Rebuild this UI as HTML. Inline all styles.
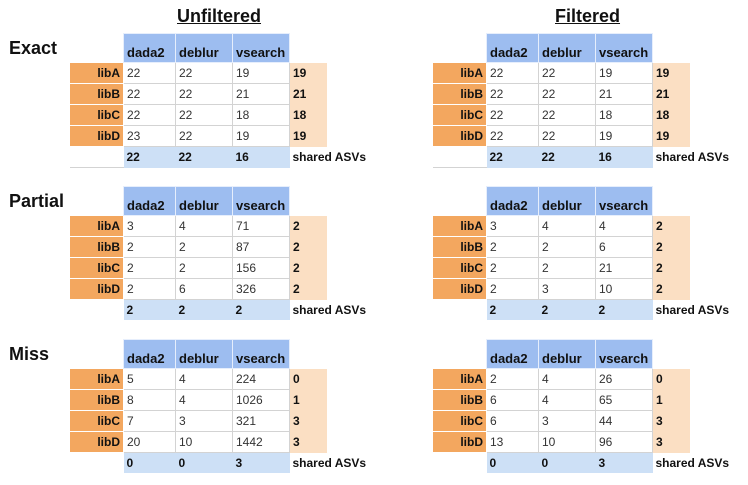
<!DOCTYPE html>
<html><head><meta charset="utf-8"><style>
body{margin:0;width:748px;height:485px;background:#fff;position:relative;overflow:hidden;font-family:"Liberation Sans",Arial,sans-serif;color:#111}
.t{position:absolute;border-collapse:collapse;table-layout:fixed;font-size:12px;width:257px}
.t td{padding:0 0 0 3px;height:20px;border:1px solid #d3d3d3;white-space:nowrap;overflow:visible;color:#333}
.t tr.h td{height:26px;background:#9dbdf0;border:1px solid #e6eefc;font-weight:bold;color:#111;vertical-align:bottom;padding-bottom:2px;font-size:13px}
.t tr.h td.e{background:#fff;border:none}
.t td.l{background:#f3a75f;border:1px solid #fff;text-align:right;padding:0 3px 0 0;font-weight:bold;color:#111}
.t td.s{background:#fbdfc3;border:none;font-weight:bold;color:#111}
.t tr.f td{background:#cde0f6;font-weight:bold;color:#111;border:none}
.t tr.f td.e{background:#fff;border:none;border-bottom:1px solid #d3d3d3}
.t tr.f td.x{background:#fff;overflow:visible;padding-left:3px}
.sec{position:absolute;left:9px;font-weight:bold;font-size:18px}
.ttl{position:absolute;top:6px;font-weight:bold;font-size:18px;text-decoration:underline}
</style></head><body>
<div class="ttl" style="left:177px">Unfiltered</div>
<div class="ttl" style="left:555px">Filtered</div>
<div class="sec" style="top:38px">Exact</div>
<div class="sec" style="top:191px">Partial</div>
<div class="sec" style="top:344px">Miss</div>

<table class="t" style="left:69px;top:33px"><colgroup><col style="width:54px"><col style="width:52px"><col style="width:57px"><col style="width:57px"><col style="width:37px"></colgroup>
<tr class="h"><td class="e"></td><td>dada2</td><td>deblur</td><td>vsearch</td><td class="e"></td></tr>
<tr><td class="l">libA</td><td>22</td><td>22</td><td>19</td><td class="s">19</td></tr>
<tr><td class="l">libB</td><td>22</td><td>22</td><td>21</td><td class="s">21</td></tr>
<tr><td class="l">libC</td><td>22</td><td>22</td><td>18</td><td class="s">18</td></tr>
<tr><td class="l">libD</td><td>23</td><td>22</td><td>19</td><td class="s">19</td></tr>
<tr class="f"><td class="e"></td><td>22</td><td>22</td><td>16</td><td class="x">shared ASVs</td></tr>
</table>
<table class="t" style="left:432px;top:33px"><colgroup><col style="width:54px"><col style="width:52px"><col style="width:57px"><col style="width:57px"><col style="width:37px"></colgroup>
<tr class="h"><td class="e"></td><td>dada2</td><td>deblur</td><td>vsearch</td><td class="e"></td></tr>
<tr><td class="l">libA</td><td>22</td><td>22</td><td>19</td><td class="s">19</td></tr>
<tr><td class="l">libB</td><td>22</td><td>22</td><td>21</td><td class="s">21</td></tr>
<tr><td class="l">libC</td><td>22</td><td>22</td><td>18</td><td class="s">18</td></tr>
<tr><td class="l">libD</td><td>22</td><td>22</td><td>19</td><td class="s">19</td></tr>
<tr class="f"><td class="e"></td><td>22</td><td>22</td><td>16</td><td class="x">shared ASVs</td></tr>
</table>

<table class="t" style="left:69px;top:186px"><colgroup><col style="width:54px"><col style="width:52px"><col style="width:57px"><col style="width:57px"><col style="width:37px"></colgroup>
<tr class="h"><td class="e"></td><td>dada2</td><td>deblur</td><td>vsearch</td><td class="e"></td></tr>
<tr><td class="l">libA</td><td>3</td><td>4</td><td>71</td><td class="s">2</td></tr>
<tr><td class="l">libB</td><td>2</td><td>2</td><td>87</td><td class="s">2</td></tr>
<tr><td class="l">libC</td><td>2</td><td>2</td><td>156</td><td class="s">2</td></tr>
<tr><td class="l">libD</td><td>2</td><td>6</td><td>326</td><td class="s">2</td></tr>
<tr class="f"><td class="e" style="border:none"></td><td>2</td><td>2</td><td>2</td><td class="x">shared ASVs</td></tr>
</table>
<table class="t" style="left:432px;top:186px"><colgroup><col style="width:54px"><col style="width:52px"><col style="width:57px"><col style="width:57px"><col style="width:37px"></colgroup>
<tr class="h"><td class="e"></td><td>dada2</td><td>deblur</td><td>vsearch</td><td class="e"></td></tr>
<tr><td class="l">libA</td><td>3</td><td>4</td><td>4</td><td class="s">2</td></tr>
<tr><td class="l">libB</td><td>2</td><td>2</td><td>6</td><td class="s">2</td></tr>
<tr><td class="l">libC</td><td>2</td><td>2</td><td>21</td><td class="s">2</td></tr>
<tr><td class="l">libD</td><td>2</td><td>3</td><td>10</td><td class="s">2</td></tr>
<tr class="f"><td class="e" style="border:none"></td><td>2</td><td>2</td><td>2</td><td class="x">shared ASVs</td></tr>
</table>

<table class="t" style="left:69px;top:339px"><colgroup><col style="width:54px"><col style="width:52px"><col style="width:57px"><col style="width:57px"><col style="width:37px"></colgroup>
<tr class="h"><td class="e"></td><td>dada2</td><td>deblur</td><td>vsearch</td><td class="e"></td></tr>
<tr><td class="l">libA</td><td>5</td><td>4</td><td>224</td><td class="s">0</td></tr>
<tr><td class="l">libB</td><td>8</td><td>4</td><td>1026</td><td class="s">1</td></tr>
<tr><td class="l">libC</td><td>7</td><td>3</td><td>321</td><td class="s">3</td></tr>
<tr><td class="l">libD</td><td>20</td><td>10</td><td>1442</td><td class="s">3</td></tr>
<tr class="f"><td class="e" style="border:none"></td><td>0</td><td>0</td><td>3</td><td class="x">shared ASVs</td></tr>
</table>
<table class="t" style="left:432px;top:339px"><colgroup><col style="width:54px"><col style="width:52px"><col style="width:57px"><col style="width:57px"><col style="width:37px"></colgroup>
<tr class="h"><td class="e"></td><td>dada2</td><td>deblur</td><td>vsearch</td><td class="e"></td></tr>
<tr><td class="l">libA</td><td>2</td><td>4</td><td>26</td><td class="s">0</td></tr>
<tr><td class="l">libB</td><td>6</td><td>4</td><td>65</td><td class="s">1</td></tr>
<tr><td class="l">libC</td><td>6</td><td>3</td><td>44</td><td class="s">3</td></tr>
<tr><td class="l">libD</td><td>13</td><td>10</td><td>96</td><td class="s">3</td></tr>
<tr class="f"><td class="e" style="border:none"></td><td>0</td><td>0</td><td>3</td><td class="x">shared ASVs</td></tr>
</table>
</body></html>
